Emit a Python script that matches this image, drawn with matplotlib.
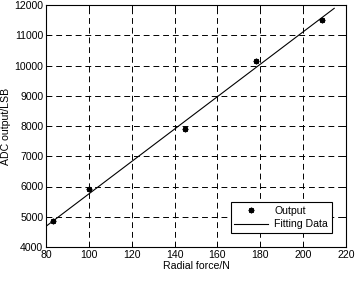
import matplotlib
matplotlib.use("Agg")
import matplotlib.pyplot as plt

# Data
force = [83.1, 100.0, 145.0, 178.0, 208.6]
adc_output = [4860, 5920, 7900, 10140, 11500]
fit_force = [80.0, 214.5]
fit_output = [4684, 11890]

x_ticks = [80, 100, 120, 140, 160, 180, 200, 220]
y_ticks = [4000, 5000, 6000, 7000, 8000, 9000, 10000, 11000, 12000]

plt.rcParams['font.family'] = ['Liberation Sans', 'DejaVu Sans']
plt.rcParams['font.size'] = 7.6

fig = plt.figure(figsize=(3.56, 2.96), dpi=100)
ax = fig.add_axes([46/356, 1-247/296, 300/356, 242/296])

ax.plot(force, adc_output, linestyle='none', marker=(8, 2, 0), markersize=4,
        markeredgewidth=1.0, color='black', label='Output')
ax.plot(fit_force, fit_output, color='black', linewidth=0.8, label='Fitting Data')

ax.set_xlim(80, 220)
ax.set_ylim(4000, 12000)
ax.set_xticks(x_ticks)
ax.set_yticks(y_ticks)
ax.grid(True, color='black', linestyle=(0, (6, 4)), linewidth=0.7)
ax.tick_params(direction='in', top=True, right=True, length=3, width=0.7,
               labelsize=7.6, pad=2, colors='black')
for s in ax.spines.values():
    s.set_linewidth(0.8)
    s.set_color('black')

ax.set_xlabel('Radial force/N', fontsize=7.6, labelpad=1)
ax.set_ylabel('ADC output/LSB', fontsize=7.6)
ax.yaxis.set_label_coords((11 - 46) / 300, 0.5)

leg = ax.legend(loc='lower right', bbox_to_anchor=(0.953, 0.058), borderaxespad=0,
                fancybox=False, framealpha=1, edgecolor='black', fontsize=7.6,
                handlelength=3.2, handletextpad=0.6, borderpad=0.35, labelspacing=0.3)
leg.get_frame().set_linewidth(0.8)

fig.savefig('out.png', dpi=100)
